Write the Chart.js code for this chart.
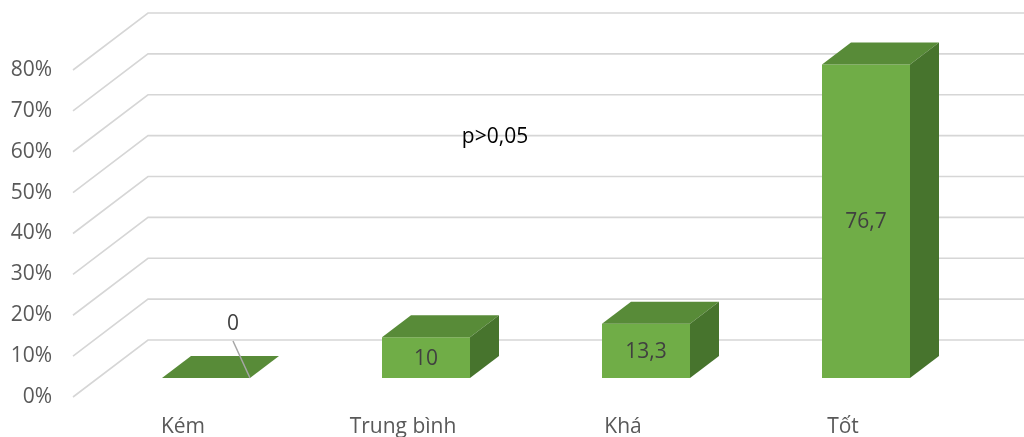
<!DOCTYPE html>
<html>
<head>
<meta charset="utf-8">
<script src="https://cdn.jsdelivr.net/npm/chart.js@4/dist/chart.umd.min.js"></script>
<style>
  html, body { margin: 0; padding: 0; background: #ffffff; }
  #wrap { width: 1024px; height: 437px; }
</style>
</head>
<body>
<div id="wrap"><canvas id="c" width="1024" height="437"></canvas></div>
<script>
// Xếp loại và tỷ lệ (%)
const categories = ['Kém', 'Trung bình', 'Khá', 'Tốt'];
const percentValues = [0, 10, 13.3, 76.7];
const yMin = 0;
const yMax = 80;
const yStep = 10;
const noteText = 'p>0,05';

const FONT = '"Open Sans", "Noto Sans", sans-serif';

// 3D geometry (pixels): floor depth, bar plane offset from the front plane, bar depth
const FLOOR = { dx: 75, dy: -57 };
const BAR_PLANE = { dx: 23, dy: -19 };
const BAR_DEPTH = { dx: 29, dy: -22 };

const COLORS = {
  front: '#70ad47',
  top: '#588b38',
  side: '#47742d',
  grid: '#d6d6d6',
  tick: '#595959',
  label: '#404040',
  leader: '#a6a6a6'
};

function fmt(v) {
  return String(v).replace('.', ',');
}

const threeD = {
  id: 'threeD',
  beforeDatasetsDraw(chart) {
    const { ctx, chartArea, scales } = chart;
    const y = scales.y;
    // floor/back-wall gridlines
    ctx.save();
    ctx.strokeStyle = COLORS.grid;
    ctx.lineWidth = 1.6;
    for (let v = yMin; v <= yMax; v += yStep) {
      const py = y.getPixelForValue(v);
      ctx.beginPath();
      ctx.moveTo(chartArea.left, py);
      ctx.lineTo(chartArea.left + FLOOR.dx, py + FLOOR.dy);
      ctx.lineTo(chart.width, py + FLOOR.dy);
      ctx.stroke();
    }
    ctx.restore();

    // annotation on the back wall
    ctx.save();
    ctx.font = '21px ' + FONT;
    ctx.fillStyle = '#000000';
    ctx.textAlign = 'center';
    ctx.textBaseline = 'middle';
    const xs = scales.x;
    ctx.fillText(noteText, (xs.getPixelForValue(1) + xs.getPixelForValue(2)) / 2 - 18, y.getPixelForValue(50) + FLOOR.dy + 1);
    ctx.restore();

    // move bars into their depth plane
    ctx.save();
    ctx.translate(BAR_PLANE.dx, BAR_PLANE.dy);
  },
  afterDatasetsDraw(chart) {
    const { ctx } = chart;
    const meta = chart.getDatasetMeta(0);
    meta.data.forEach((bar) => {
      const p = bar.getProps(['x', 'y', 'base', 'width'], true);
      const l = p.x - p.width / 2, r = p.x + p.width / 2;
      // top face
      ctx.fillStyle = COLORS.top;
      ctx.beginPath();
      ctx.moveTo(l, p.y);
      ctx.lineTo(r, p.y);
      ctx.lineTo(r + BAR_DEPTH.dx, p.y + BAR_DEPTH.dy);
      ctx.lineTo(l + BAR_DEPTH.dx, p.y + BAR_DEPTH.dy);
      ctx.closePath();
      ctx.fill();
      // side face
      if (p.base - p.y > 0.5) {
        ctx.fillStyle = COLORS.side;
        ctx.beginPath();
        ctx.moveTo(r, p.y);
        ctx.lineTo(r + BAR_DEPTH.dx, p.y + BAR_DEPTH.dy);
        ctx.lineTo(r + BAR_DEPTH.dx, p.base + BAR_DEPTH.dy);
        ctx.lineTo(r, p.base);
        ctx.closePath();
        ctx.fill();
      }
    });

    // value labels
    ctx.font = '21px ' + FONT;
    ctx.textAlign = 'center';
    ctx.textBaseline = 'middle';
    meta.data.forEach((bar, i) => {
      const p = bar.getProps(['x', 'y', 'base', 'width'], true);
      const v = percentValues[i];
      if (p.base - p.y > 24) {
        ctx.fillStyle = COLORS.label;
        ctx.fillText(fmt(v), p.x, (p.y + p.base) / 2 + 1);
      } else {
        // small bar: label above with a leader line to the front corner
        const r = p.x + p.width / 2;
        const lx = r - 17, ly = p.y - 54;
        ctx.strokeStyle = COLORS.leader;
        ctx.lineWidth = 1.5;
        ctx.beginPath();
        ctx.moveTo(lx, ly + 17);
        ctx.lineTo(r, p.y);
        ctx.stroke();
        ctx.fillStyle = COLORS.label;
        ctx.fillText(fmt(v), lx, ly);
      }
    });
    ctx.restore();
  }
};

new Chart(document.getElementById('c'), {
  type: 'bar',
  data: {
    labels: categories,
    datasets: [{
      data: percentValues,
      backgroundColor: COLORS.front,
      borderWidth: 0,
      barPercentage: 0.4,
      categoryPercentage: 1.0,
      clip: false
    }]
  },
  options: {
    responsive: false,
    animation: false,
    events: [],
    layout: { padding: { left: 0, right: 71, top: 70, bottom: 0 } },
    plugins: {
      legend: { display: false },
      tooltip: { enabled: false },
      title: { display: false }
    },
    scales: {
      x: {
        grid: { display: false, drawTicks: false },
        border: { display: false },
        ticks: {
          color: COLORS.tick,
          font: { family: FONT, size: 21 },
          padding: 17,
          maxRotation: 0,
          autoSkip: false
        },
        afterFit(scale) { scale.height = 40; }
      },
      y: {
        min: yMin,
        max: yMax,
        grid: { display: false, drawTicks: false },
        border: { display: false },
        ticks: {
          stepSize: yStep,
          color: COLORS.tick,
          font: { family: FONT, size: 21 },
          padding: 21,
          callback: (v) => v + '%'
        },
        afterFit(scale) { scale.width = 73; }
      }
    }
  },
  plugins: [threeD]
});
</script>
</body>
</html>
